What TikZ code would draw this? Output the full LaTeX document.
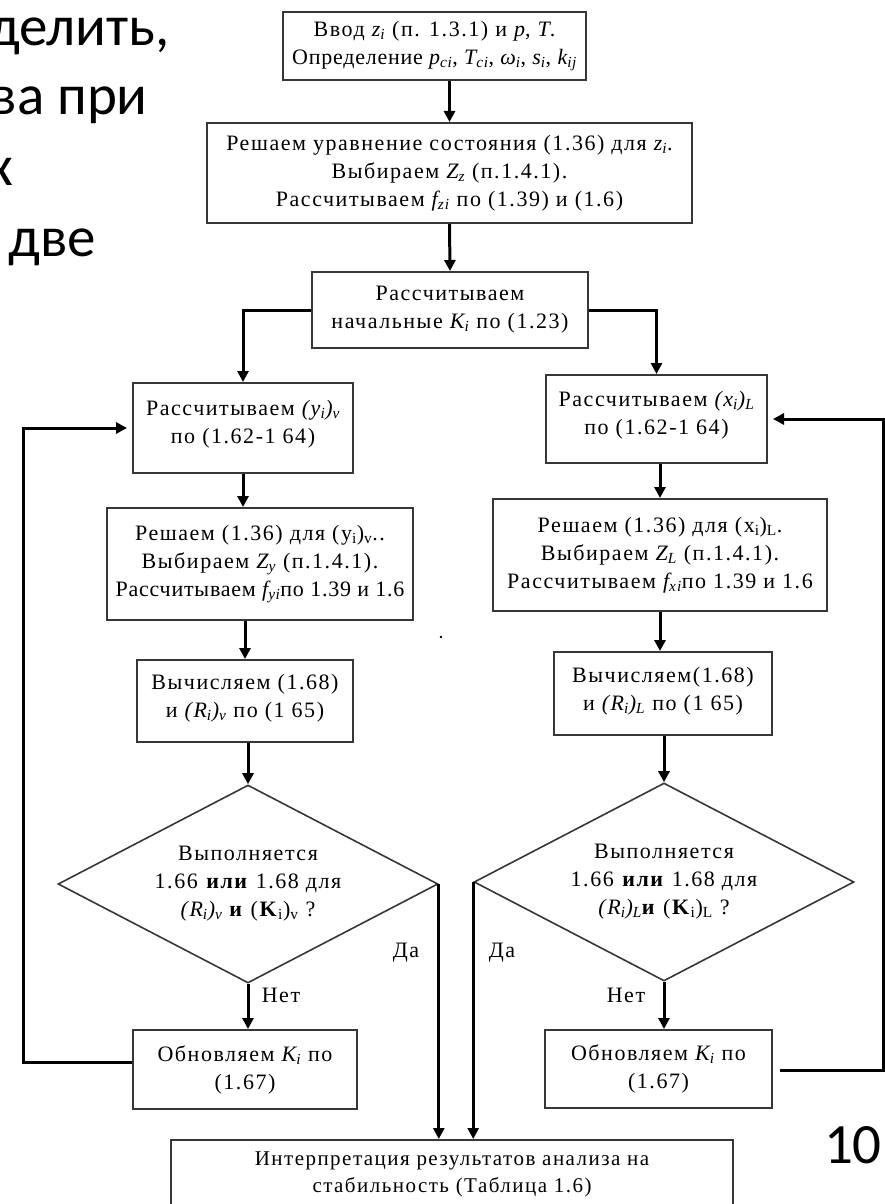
\documentclass[tikz,border=0pt]{standalone}
\usepackage{fontspec}
\setmainfont{Liberation Serif}[LetterSpace=7]
\newfontfamily\slidefont{Carlito}
\usetikzlibrary{arrows.meta,shapes.geometric,calc}
\definecolor{boxline}{RGB}{55,55,55}
\newcommand{\tightls}{\addfontfeature{LetterSpace=3.5}}
\begin{document}
\begin{tikzpicture}[x=1pt,y=-1pt,
  box/.style={draw=boxline, line width=2pt, inner sep=0pt, align=center, font=\fontsize{22}{28}\selectfont},
  dia/.style={draw=boxline, line width=1.6pt, shape=diamond, inner sep=0pt},
  txt/.style={align=center, font=\fontsize{22}{28}\selectfont, inner sep=0pt},
  lbl/.style={font=\fontsize{22}{24}\selectfont, inner sep=0pt},
  arr/.style={line width=3pt, -{Triangle[length=11pt,width=11pt]}},
  ln/.style={line width=3pt},
  slide/.style={font=\fontsize{57}{67}\slidefont, inner sep=0pt}]
\useasboundingbox (0,0) rectangle (885,1204);
\clip (0,0) rectangle (885,1204);

% slide text fragments
\node[slide, anchor=base east] (s1) at (170,46) {делить,};
\node[slide, anchor=base east] (s2) at (148,115) {ва при};
\node[slide, anchor=base east] (s3) at (13,185) {х};
\node[slide, anchor=base west] (s4) at (8,256) {две};
\node[slide, anchor=base east] (s5) at (882,1163) {10};

% boxes
\node[box, minimum width=303pt, minimum height=68pt] (B1) at (434.5,46)
  {Ввод \textit{z\textsubscript{i}} (п. 1.3.1) и \textit{p}, \textit{T}.\\{\tightls Определение \textit{p\textsubscript{ci}}, \textit{T\textsubscript{ci}}, \textit{ω\textsubscript{i}}, \textit{s\textsubscript{i}}, \textit{k\textsubscript{ij}}}};
\node[box, minimum width=485pt, minimum height=100pt] (B2) at (449.5,173)
  {Решаем уравнение состояния (1.36) для \textit{z\textsubscript{i}}.\\Выбираем \textit{Z\textsubscript{z}} (п.1.4.1).\\Рассчитываем \textit{f\textsubscript{zi}} по (1.39) и (1.6)};
\node[box, minimum width=276pt, minimum height=76pt] (B3) at (450,310)
  {Рассчитываем\\начальные \textit{K\textsubscript{i}} по (1.23)};

\node[box, minimum width=220pt, minimum height=90pt, text depth=12pt] (L1) at (243,428)
  {Рассчитываем \textit{(y\textsubscript{i})\textsubscript{v}}\\по (1.62-1 64)};
\node[box, minimum width=306pt, minimum height=112pt] (L2) at (260,564)
  {Решаем (1.36) для (y\textsubscript{i})\textsubscript{v}..\\Выбираем \textit{Z\textsubscript{y}} (п.1.4.1).\\{\tightls Рассчитываем \textit{f\textsubscript{yi}}по 1.39 и 1.6}};
\node[box, minimum width=216pt, minimum height=82pt, text depth=10pt] (L3) at (245,701)
  {Вычисляем (1.68)\\и \textit{(R\textsubscript{i})\textsubscript{v}} по (1 65)};
\node[dia, minimum width=380pt, minimum height=198pt] (DL) at (248,884) {};
\node[txt] (DLt) at (248,884)
  {Выполняется\\1.66 \textbf{или} 1.68 для\\\textit{(R\textsubscript{i})\textsubscript{v}} \textbf{и} (\textbf{K}\textsubscript{i})\textsubscript{v} ?};
\node[box, minimum width=224pt, minimum height=79pt] (L4) at (245,1069.5)
  {Обновляем \textit{K\textsubscript{i}} по\\(1.67)};

\node[box, minimum width=221pt, minimum height=88pt, text depth=12pt] (R1) at (656.5,419)
  {Рассчитываем \textit{(x\textsubscript{i})\textsubscript{L}}\\по (1.62-1 64)};
\node[box, minimum width=334pt, minimum height=112pt] (R2) at (660,555)
  {Решаем (1.36) для (x\textsubscript{i})\textsubscript{L}.\\Выбираем \textit{Z\textsubscript{L}} (п.1.4.1).\\Рассчитываем \textit{f\textsubscript{xi}}по 1.39 и 1.6};
\node[box, minimum width=218pt, minimum height=83pt, text depth=10pt] (R3) at (663,693.5)
  {Вычисляем(1.68)\\и \textit{(R\textsubscript{i})\textsubscript{L}} по (1 65)};
\node[dia, minimum width=380pt, minimum height=198pt] (DR) at (664,882) {};
\node[txt] (DRt) at (664,882)
  {Выполняется\\1.66 \textbf{или} 1.68 для\\\textit{(R\textsubscript{i})\textsubscript{L}}\textbf{и} (\textbf{K}\textsubscript{i})\textsubscript{L} ?};
\node[box, minimum width=227pt, minimum height=78pt] (R4) at (658.5,1069)
  {Обновляем \textit{K\textsubscript{i}} по\\(1.67)};

\node[draw=boxline, line width=2pt, minimum width=562pt, minimum height=76pt, inner sep=0pt] (BB) at (452,1178) {};
\node[align=center, inner sep=0pt, font=\fontsize{21}{27}\selectfont] (BBt) at (452,1174) {Интерпретация результатов анализа на\\стабильность (Таблица 1.6)};

% labels
\node[lbl] (da1) at (406,953) {Да};
\node[lbl] (da2) at (502,953) {Да};
\node[lbl] (net1) at (281,995) {Нет};
\node[lbl] (net2) at (626,995) {Нет};
\fill (441,637) circle (1.4pt);

% connectors
\draw[arr] (B1.south -| B2.north) -- (B2.north);
\draw[arr] (B2.south) -- (B3.north);
\draw[arr] (B3.west) -| (L1.north);
\draw[arr] (B3.east) -| (R1.north);

\draw[arr] (L1.south) -- (L1.south |- L2.north);
\draw[arr] (L3.north |- L2.south) -- (L3.north);
\draw[arr] (DL.north |- L3.south) -- (DL.north);
\draw[arr] (DL.south) -- (DL.south |- L4.north);

\draw[arr] (R2.north |- R1.south) -- (R2.north);
\draw[arr] (R2.south) -- (R2.south |- R3.north);
\draw[arr] (DR.north |- R3.south) -- (DR.north);
\draw[arr] (DR.south) -- (DR.south |- R4.north);

\draw[arr] (DL.east) -- (DL.east |- BB.north);
\draw[arr] (DR.west) -- (DR.west |- BB.north);

\coordinate (lp) at (23,1062);
\draw[arr, shorten >=5pt] (L4.west |- lp) -- (lp) -- (lp |- L1.west) -- (L1.west);
\coordinate (rp) at (883,1070);
\draw[arr, shorten >=5pt, shorten <=7pt] (R4.east |- rp) -- (rp) -- (rp |- R1.east) -- (R1.east);
\end{tikzpicture}
\end{document}
